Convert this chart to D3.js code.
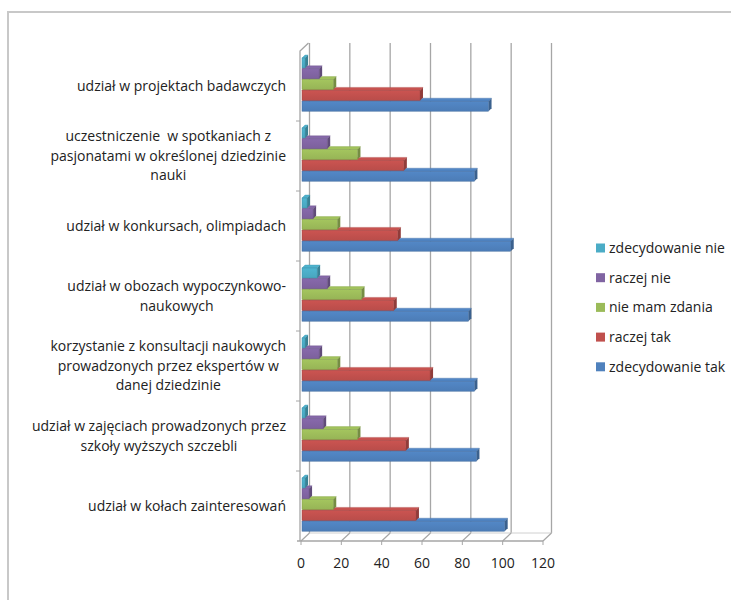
<!DOCTYPE html>
<html>
<head>
<meta charset="utf-8">
<script src="https://cdn.jsdelivr.net/npm/d3@7"></script>
<style>
  body { margin: 0; background: #fff; }
  #chart text { white-space: pre; }
</style>
</head>
<body>
<div id="chart"></div>
<script>
// categories, top to bottom (line breaks as wrapped in the picture)
const categories = [
  'udział w projektach badawczych',
  'uczestniczenie  w spotkaniach z\npasjonatami w określonej dziedzinie\nnauki',
  'udział w konkursach, olimpiadach',
  'udział w obozach wypoczynkowo-\nnaukowych',
  'korzystanie z konsultacji naukowych\nprowadzonych przez ekspertów w\ndanej dziedzinie',
  'udział w zajęciach prowadzonych przez\nszkoły wyższych szczebli',
  'udział w kołach zainteresowań'
];

// series in legend order (top to bottom inside each category)
const seriesNames = ['zdecydowanie nie', 'raczej nie', 'nie mam zdania', 'raczej tak', 'zdecydowanie tak'];
const seriesColors = ['#4BACC6', '#8064A2', '#9BBB59', '#C0504D', '#4F81BD'];

const zdecydowanieNie = [2, 2, 3, 8, 2, 2, 2];
const raczejNie       = [9, 13, 6, 13, 9, 11, 4];
const nieMamZdania    = [16, 28, 18, 30, 18, 28, 16];
const raczejTak       = [59, 51, 48, 46, 64, 52, 57];
const zdecydowanieTak = [93, 86, 104, 83, 86, 87, 101];
const seriesValues = [zdecydowanieNie, raczejNie, nieMamZdania, raczejTak, zdecydowanieTak];

const xTicks = [0, 20, 40, 60, 80, 100, 120];

const W = 731, H = 600;
const font = "'Open Sans', sans-serif";

// 3D depth of the walls / floor
const depthX = 8.5, depthY = -8;
// 3D depth of the bars (top face sits under the bar above)
const barDX = 3, barDY = -3;

const svg = d3.select('#chart').append('svg')
  .attr('width', W).attr('height', H)
  .style('font-family', font);

// outer frame
svg.append('rect')
  .attr('x', 8).attr('y', 12)
  .attr('width', 760).attr('height', 620)
  .attr('fill', 'none')
  .attr('stroke', '#c8c8c8')
  .attr('stroke-width', 2);

const x = d3.scaleLinear().domain([0, 120]).range([301, 543]);
const y = d3.scaleBand().domain(categories).range([51, 541]);
const inner = d3.scaleBand().domain(seriesNames).range([7, 61]);

const floorY = y.range()[1];
const topY = y.range()[0];

// back wall grid lines
svg.append('g')
  .selectAll('line')
  .data(xTicks)
  .join('line')
  .attr('x1', d => x(d) + depthX).attr('x2', d => x(d) + depthX)
  .attr('y1', topY + depthY).attr('y2', floorY + depthY)
  .attr('stroke', '#a6a6a6')
  .attr('stroke-width', 1.3);

// back floor edge
svg.append('line')
  .attr('x1', x(0) + depthX).attr('x2', x(120) + depthX)
  .attr('y1', floorY + depthY).attr('y2', floorY + depthY)
  .attr('stroke', '#d0d0d0');

// left wall
const wallX = x(0) - 1;
svg.append('path')
  .attr('d', `M${wallX},${floorY}L${wallX},${topY}L${wallX + depthX},${topY + depthY}`)
  .attr('fill', 'none')
  .attr('stroke', '#a6a6a6')
  .attr('stroke-width', 1.3);

// floor depth lines + front axis
svg.append('g')
  .selectAll('line')
  .data(xTicks)
  .join('line')
  .attr('x1', d => x(d)).attr('x2', d => x(d) + depthX)
  .attr('y1', floorY).attr('y2', floorY + depthY)
  .attr('stroke', '#a6a6a6')
  .attr('stroke-width', 1.2);

svg.append('g')
  .selectAll('line')
  .data(xTicks)
  .join('line')
  .attr('x1', d => x(d)).attr('x2', d => x(d))
  .attr('y1', floorY).attr('y2', floorY + 4)
  .attr('stroke', '#a6a6a6');

svg.append('line')
  .attr('x1', wallX - 3).attr('x2', x(120))
  .attr('y1', floorY).attr('y2', floorY)
  .attr('stroke', '#a6a6a6')
  .attr('stroke-width', 1.3);

// category ticks on the left edge
svg.append('g')
  .selectAll('line')
  .data(categories.slice(1))
  .join('line')
  .attr('x1', wallX - 4).attr('x2', wallX)
  .attr('y1', d => y(d)).attr('y2', d => y(d))
  .attr('stroke', '#a6a6a6');

// gradients for bar faces
const defs = svg.append('defs');
seriesColors.forEach((c, i) => {
  const g = defs.append('linearGradient')
    .attr('id', 'grad' + i)
    .attr('x1', 0).attr('x2', 0).attr('y1', 0).attr('y2', 1);
  g.append('stop').attr('offset', '0%').attr('stop-color', d3.color(c).brighter(0.15));
  g.append('stop').attr('offset', '100%').attr('stop-color', d3.color(c).darker(0.1));
});

// bars: build flat list, draw bottom series first
const bars = [];
categories.forEach((cat, ci) => {
  for (let si = seriesNames.length - 1; si >= 0; si--) {
    bars.push({ cat, si, name: seriesNames[si], value: seriesValues[si][ci] });
  }
});

const frontH = inner.bandwidth() - 0.8; // front face height

const barG = svg.append('g')
  .selectAll('g')
  .data(bars)
  .join('g');

barG.each(function (d) {
  const g = d3.select(this);
  const c = seriesColors[d.si];
  const x0 = x(0) + 1;
  const x1 = x(d.value);
  const fy = y(d.cat) + inner(d.name); // top of front face
  const ty = fy + barDY;
  // top face
  g.append('path')
    .attr('d', `M${x0},${fy}L${x1},${fy}L${x1 + barDX},${ty}L${x0 + barDX},${ty}Z`)
    .attr('fill', d3.color(c).brighter(0.1))
    .attr('stroke', d3.color(c).darker(0.3))
    .attr('stroke-width', 0.4);
  // end face
  g.append('path')
    .attr('d', `M${x1},${fy}L${x1 + barDX},${ty}L${x1 + barDX},${ty + frontH}L${x1},${fy + frontH}Z`)
    .attr('fill', d3.color(c).darker(0.8));
  // front face
  g.append('rect')
    .attr('x', x0).attr('y', fy)
    .attr('width', x1 - x0).attr('height', frontH)
    .attr('fill', `url(#grad${d.si})`)
    .attr('stroke', d3.color(c).darker(0.5))
    .attr('stroke-width', 0.5);
});

// x tick labels
svg.append('g')
  .selectAll('text')
  .data(xTicks)
  .join('text')
  .attr('x', d => x(d)).attr('y', 568)
  .attr('text-anchor', 'middle')
  .attr('font-size', '14px')
  .attr('fill', '#222')
  .text(d => d);

// category labels: block right-aligned at labelRight, lines centered in block
const labelRight = 286;
const lineH = 19.5;
const labelG = svg.append('g')
  .selectAll('g')
  .data(categories)
  .join('g');

labelG.each(function (d) {
  const g = d3.select(this);
  const lines = d.split('\n');
  const cy = y(d) + y.bandwidth() / 2;
  const texts = lines.map((ln, i) => g.append('text')
    .attr('y', cy + (i - (lines.length - 1) / 2) * lineH)
    .attr('dy', '0.35em')
    .attr('text-anchor', 'middle')
    .attr('font-size', '14px')
    .attr('fill', '#222')
    .text(ln));
  const maxW = d3.max(texts, t => t.node().getComputedTextLength());
  texts.forEach(t => t.attr('x', labelRight - maxW / 2));
});

// legend
const legend = svg.append('g')
  .selectAll('g')
  .data(seriesNames)
  .join('g')
  .attr('transform', (d, i) => `translate(596,${248 + i * 29.7})`);

legend.append('rect')
  .attr('x', 0).attr('y', -4.5)
  .attr('width', 9).attr('height', 9)
  .attr('fill', (d, i) => seriesColors[i]);

legend.append('text')
  .attr('x', 13).attr('dy', '0.35em')
  .attr('font-size', '14px')
  .attr('fill', '#222')
  .text(d => d);
</script>
</body>
</html>
